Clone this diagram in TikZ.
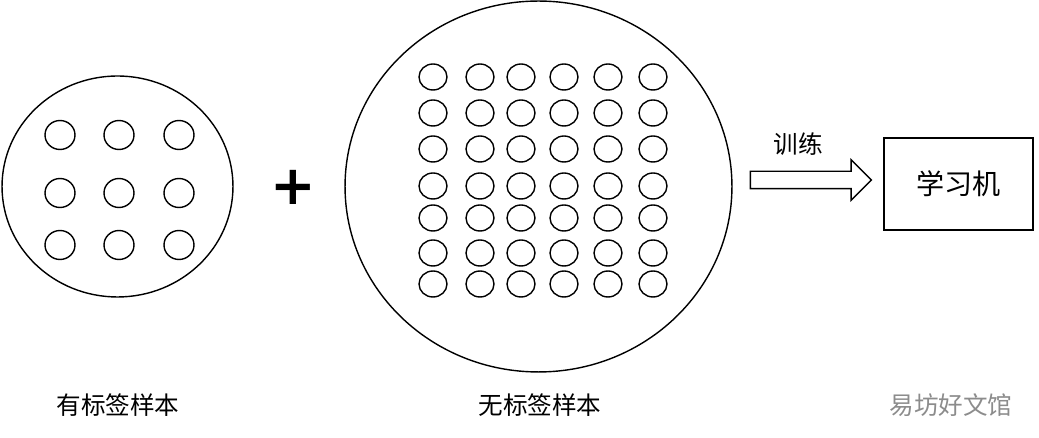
\documentclass[tikz,border=0pt]{standalone}
\usepackage{fontspec}
\setmainfont{Noto Sans CJK SC}
\newfontfamily\plusfont{DejaVu Sans}
\usetikzlibrary{shapes.geometric,shapes.arrows}
\tikzstyle{pool} = [draw, line width=0.8pt, ellipse, inner sep=0pt]
\tikzstyle{sample} = [draw, line width=0.8pt, ellipse, inner sep=0pt, minimum width=0.6cm, minimum height=0.58cm]
\tikzstyle{unlabeled} = [draw, line width=0.8pt, ellipse, inner sep=0pt, minimum width=0.56cm, minimum height=0.52cm]
\tikzstyle{caption} = [font=\fontsize{14}{16}\selectfont]

\begin{document}
\begin{tikzpicture}[x=0.02cm, y=-0.02cm]
		\useasboundingbox (0,0) rectangle (1039,438);
		% labelled samples
		\node[pool, minimum width=4.62cm, minimum height=4.42cm](left) at (117.5,186.5) {};
		\foreach \x/\i in {60/1,119/2,179/3}
			\foreach \y/\j in {135/1,193/2,245/3}
				\node[sample](l\i\j) at (\x,\y) {};
		\node[caption](leftlabel) at (118,405) {有标签样本};
		% plus
		\node[font=\plusfont\bfseries\fontsize{31}{33}\selectfont, inner sep=0pt](plus) at (293,187) {+};
		% unlabelled samples
		\node[pool, minimum width=7.74cm, minimum height=7.42cm](right) at (538.5,186.5) {};
		\foreach \x/\i in {433/1,480/2,521/3,564/4,608/5,653/6}
			\foreach \y/\j in {77/1,113/2,149/3,186/4,218/5,253/6,284/7}
				\node[unlabeled](u\i\j) at (\x,\y) {};
		\node[caption](rightlabel) at (540,405) {无标签样本};
		% training
		\node[draw, line width=0.8pt, single arrow, minimum height=2.42cm, minimum width=0.78cm, inner xsep=0pt, inner ysep=0.16cm, single arrow head extend=0.23cm](train) at (806.5,180) {};
		\node[caption](trainlabel) at (798,144) {训练};
		\node[draw, line width=0.8pt, minimum width=2.98cm, minimum height=1.84cm, font=\fontsize{16}{18}\selectfont](learner) at (958.5,184) {学习机};
		\node[caption, text=black!45](mark) at (951,405) {易坊好文馆};
	\end{tikzpicture}
\end{document}
